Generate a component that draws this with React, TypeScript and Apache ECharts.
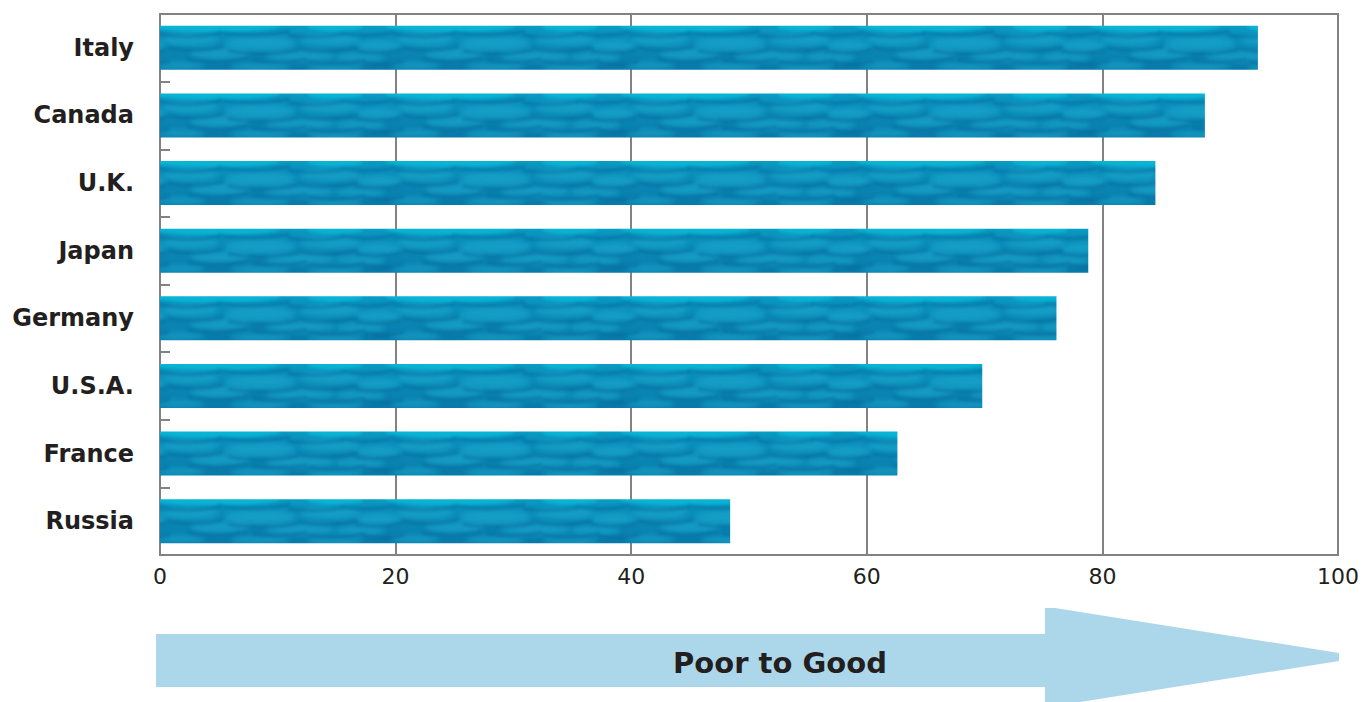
import { useEffect, useRef } from "react";
import * as echarts from "echarts";

// Survey scores by country (0 = poor, 100 = good)
const countries = ["Italy", "Canada", "U.K.", "Japan", "Germany", "U.S.A.", "France", "Russia"];
const scores = [93.2, 88.7, 84.5, 78.8, 76.1, 69.8, 62.6, 48.4];
const scoreMin = 0;
const scoreMax = 100;
const scoreStep = 20;
const arrowCaption = "Poor to Good";

const W = 1365;
const H = 702;
const GRID = { left: 160, right: 27, top: 14, bottom: 147 };
const GAP_RATIO = 0.35;
const FONT = '"DejaVu Sans", Verdana, sans-serif';
const INK = "#231F20";
const RULE = "#828282";

// Water-like texture for one bar strip
const TILE_W = 235;
const TILE_H = 44;
// glints near the top edge: [x, y, rx, ry]
const topGlints: number[][] = [
  [55, 1, 65, 6], [175, 2, 28, 4],
];
// soft light patches: [x, y, rx, ry]
const lightPatches: number[][] = [
  [30, 14, 28, 6], [100, 18, 35, 7], [170, 14, 30, 6], [218, 20, 22, 6],
  [60, 28, 30, 6], [140, 30, 35, 6], [200, 31, 25, 5],
  [20, 39, 25, 4], [100, 40, 30, 4], [175, 41, 28, 4],
];
// darker ripple lines: [x, y, length, sag]
const ripples: number[][] = [
  [0, 9, 60, 5], [58, 7, 72, 6], [128, 10, 55, 4], [182, 8, 53, 5],
  [8, 22, 55, 5], [68, 25, 70, 6], [138, 23, 60, 5], [196, 25, 45, 4],
  [28, 33, 60, 5], [92, 34, 55, 4], [148, 35, 57, 5], [204, 36, 40, 4],
];

function drawStrip(): HTMLCanvasElement {
  const c = document.createElement("canvas");
  c.width = TILE_W;
  c.height = TILE_H;
  const ctx = c.getContext("2d")!;
  const g = ctx.createLinearGradient(0, 0, 0, TILE_H);
  g.addColorStop(0, "#06A0C6");
  g.addColorStop(0.2, "#0B90BC");
  g.addColorStop(0.55, "#0B88B5");
  g.addColorStop(1, "#0879A9");
  ctx.fillStyle = g;
  ctx.fillRect(0, 0, TILE_W, TILE_H);

  const ellipses = (list: number[][], fill: string, blur: number) => {
    ctx.filter = `blur(${blur}px)`;
    ctx.fillStyle = fill;
    for (const [x, y, rx, ry] of list) {
      for (const dx of [-TILE_W, 0, TILE_W]) {
        ctx.beginPath();
        ctx.ellipse(x + dx, y, rx, ry, 0, 0, Math.PI * 2);
        ctx.fill();
      }
    }
  };
  ellipses(lightPatches, "rgba(30, 175, 212, 0.5)", 2.5);
  ellipses(topGlints, "rgba(10, 185, 215, 0.85)", 1.5);

  ctx.filter = "blur(1.5px)";
  ctx.strokeStyle = "rgba(5, 92, 142, 0.45)";
  ctx.lineWidth = 2.4;
  for (const [x, y, len, sag] of ripples) {
    for (const dx of [-TILE_W, 0, TILE_W]) {
      ctx.beginPath();
      ctx.moveTo(x + dx, y);
      ctx.quadraticCurveTo(x + dx + len / 2, y + sag, x + dx + len, y - 1);
      ctx.stroke();
    }
  }
  ctx.filter = "none";
  return c;
}

// Full-height tile so each bar gets its strip from its own top edge
function makeTile(): HTMLCanvasElement {
  const strip = drawStrip();
  const band = (H - GRID.top - GRID.bottom) / countries.length;
  const barH = band * (1 - GAP_RATIO);
  const c = document.createElement("canvas");
  c.width = TILE_W;
  c.height = H;
  const ctx = c.getContext("2d")!;
  const shift = GRID.left % TILE_W;
  for (let k = 0; k < countries.length; k++) {
    const top = GRID.top + band * k + (band - barH) / 2;
    for (const dx of [shift, shift - TILE_W]) {
      ctx.drawImage(strip, dx, top - 1, TILE_W, barH + 2);
    }
  }
  return c;
}

export default function App() {
  const ref = useRef<HTMLDivElement>(null);

  useEffect(() => {
    if (!ref.current) return;
    const tile = makeTile();
    const chart = echarts.init(ref.current, null, { renderer: "svg" });

    const arrow = [
      [156, 634], [1045, 634], [1045, 608], [1055, 608], [1339, 653],
      [1339, 661], [1055, 706], [1045, 706], [1045, 687], [156, 687],
    ];

    chart.setOption({
      animation: false,
      grid: {
        left: GRID.left,
        right: GRID.right,
        top: GRID.top,
        bottom: GRID.bottom,
        show: true,
        borderColor: RULE,
        borderWidth: 2,
        containLabel: false,
      },
      xAxis: {
        type: "value",
        min: scoreMin,
        max: scoreMax,
        interval: scoreStep,
        axisLine: { show: true, lineStyle: { color: RULE, width: 2 } },
        axisTick: { show: false },
        splitLine: { show: true, lineStyle: { color: RULE, width: 2 } },
        axisLabel: {
          color: INK,
          fontFamily: FONT,
          fontSize: 22,
          margin: 10,
        },
      },
      yAxis: {
        type: "category",
        inverse: true,
        data: countries,
        axisLine: { show: true, lineStyle: { color: RULE, width: 2 } },
        axisTick: { show: true, inside: true, length: 10, lineStyle: { color: RULE, width: 2 } },
        splitLine: { show: false },
        axisLabel: {
          color: INK,
          fontFamily: FONT,
          fontWeight: "bold",
          fontSize: 24,
          margin: 26,
        },
      },
      series: [
        {
          type: "bar",
          data: scores,
          barCategoryGap: `${GAP_RATIO * 100}%`,
          itemStyle: {
            color: { image: tile, repeat: "repeat", imageWidth: TILE_W, imageHeight: H },
          },
        },
      ],
      graphic: [
        {
          type: "polygon",
          silent: true,
          shape: { points: arrow },
          style: { fill: "#ACD7EA" },
          z: 1,
        },
        {
          type: "text",
          silent: true,
          z: 2,
          style: {
            text: arrowCaption,
            x: 780,
            y: 663,
            fill: INK,
            font: `bold 29px ${FONT}`,
            align: "center",
            verticalAlign: "middle",
            textAlign: "center",
            textVerticalAlign: "middle",
          },
        },
      ],
    });

    return () => chart.dispose();
  }, []);

  return (
    <div
      ref={ref}
      style={{ position: "fixed", left: 0, top: 0, width: W, height: H, background: "#fff" }}
    />
  );
}
